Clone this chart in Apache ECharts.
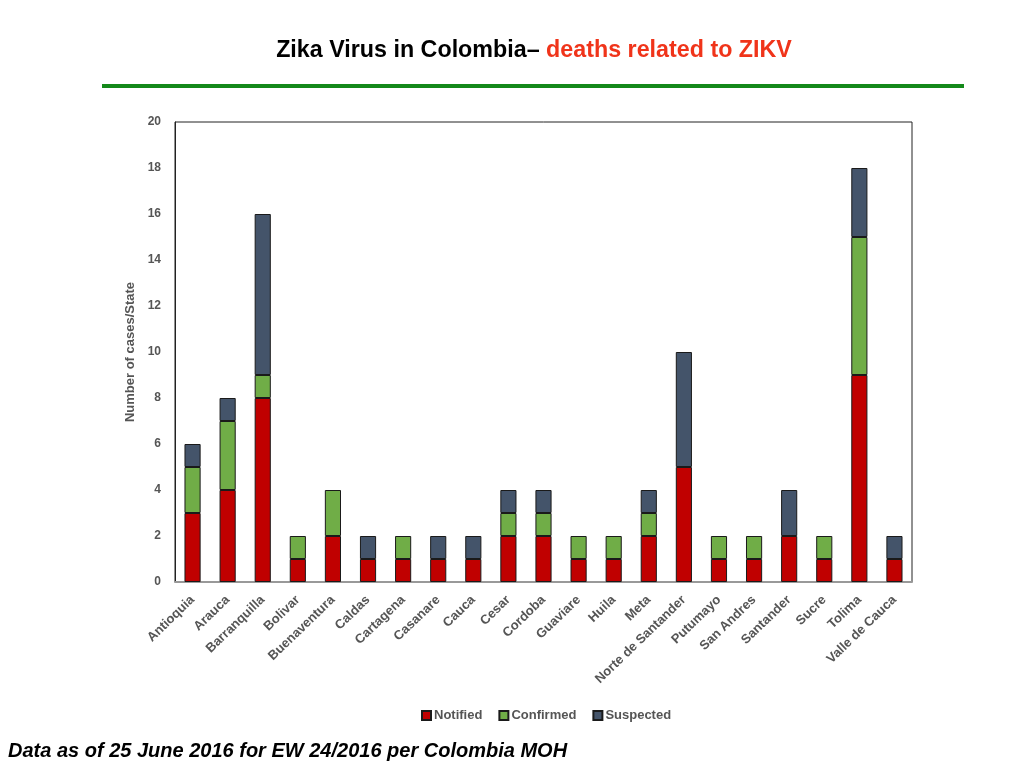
<!DOCTYPE html>
<html>
<head>
<meta charset="utf-8">
<script src="https://cdn.jsdelivr.net/npm/echarts@6/dist/echarts.min.js"></script>
<style>
  html, body { margin: 0; padding: 0; background: #fff; }
  #chart { width: 1024px; height: 768px; }
</style>
</head>
<body>
<div id="chart"></div>
<script>
// states shown on the x axis
const states = ['Antioquia', 'Arauca', 'Barranquilla', 'Bolivar', 'Buenaventura', 'Caldas',
    'Cartagena', 'Casanare', 'Cauca', 'Cesar', 'Cordoba', 'Guaviare', 'Huila', 'Meta',
    'Norte de Santander', 'Putumayo', 'San Andres', 'Santander', 'Sucre', 'Tolima', 'Valle de Cauca'];

const notified  = [3, 4, 8, 1, 2, 1, 1, 1, 1, 2, 2, 1, 1, 2, 5, 1, 1, 2, 1, 9, 1];
const confirmed = [2, 3, 1, 1, 2, 0, 1, 0, 0, 1, 1, 1, 1, 1, 0, 1, 1, 0, 1, 6, 0];
const suspected = [1, 1, 7, 0, 0, 1, 0, 1, 1, 1, 1, 0, 0, 1, 5, 0, 0, 2, 0, 3, 1];

const seriesNames = ['Notified', 'Confirmed', 'Suspected'];
const colors = ['#c00000', '#70ad47', '#44546a'];

const chart = echarts.init(document.getElementById('chart'));

function barSeries(name, data, color) {
    return {
        name: name,
        type: 'bar',
        stack: 'total',
        barWidth: '46%',
        data: data.map(v => (v === 0 ? null : v)),
        itemStyle: {color: color, borderColor: '#1a1a1a', borderWidth: 1}
    };
}

const option = {
    backgroundColor: '#fff',
    animation: false,
    graphic: [
        {
            // slightly squeezed bold sans for the condensed-looking title
            type: 'text',
            x: 534,
            y: 50,
            scaleX: 0.97,
            style: {
                text: '{a|Zika Virus in Colombia\u2013 }{b|deaths related to ZIKV}',
                align: 'center',
                verticalAlign: 'middle',
                rich: {
                    a: {fontFamily: 'Liberation Sans', fontWeight: 'bold', fontSize: 24, fill: '#000'},
                    b: {fontFamily: 'Liberation Sans', fontWeight: 'bold', fontSize: 24, fill: '#f0341a'}
                }
            }
        },
        {
            type: 'rect',
            shape: {x: 102, y: 84, width: 862, height: 4},
            style: {fill: '#14891a'}
        },
        {
            type: 'text',
            x: 8,
            y: 751,
            style: {
                text: 'Data as of 25 June 2016 for EW 24/2016 per Colombia MOH',
                font: 'italic bold 20px "Liberation Sans", Arial, sans-serif',
                fill: '#000',
                verticalAlign: 'middle'
            }
        }
    ],
    legend: {
        data: seriesNames,
        top: 704,
        left: 416,
        itemWidth: 9,
        itemHeight: 9,
        itemGap: 16,
        icon: 'rect',
        textStyle: {fontFamily: 'Liberation Sans', fontWeight: 'bold', fontSize: 13, color: '#555', padding: [0, 0, 0, -2]}
    },
    grid: {left: 175, right: 112, top: 122, bottom: 186, show: true, borderColor: '#222', borderWidth: 1},
    xAxis: {
        type: 'category',
        data: states,
        axisLine: {lineStyle: {color: '#999', width: 2}},
        axisTick: {show: false},
        axisLabel: {
            interval: 0,
            rotate: 44,
            margin: 16,
            fontFamily: 'Liberation Sans',
            fontWeight: 'bold',
            fontSize: 13,
            color: '#555'
        }
    },
    yAxis: {
        type: 'value',
        min: 0,
        max: 20,
        interval: 2,
        name: 'Number of cases/State',
        nameLocation: 'middle',
        nameGap: 31,
        nameTextStyle: {fontFamily: 'Liberation Sans', fontWeight: 'bold', fontSize: 13, color: '#555'},
        axisLine: {show: true, lineStyle: {color: '#222'}},
        axisTick: {show: false},
        splitLine: {show: false},
        axisLabel: {margin: 14, fontFamily: 'Liberation Sans', fontWeight: 'bold', fontSize: 12, color: '#555'}
    },
    series: [
        barSeries(seriesNames[0], notified, colors[0]),
        barSeries(seriesNames[1], confirmed, colors[1]),
        barSeries(seriesNames[2], suspected, colors[2])
    ]
};

chart.setOption(option);
</script>
</body>
</html>
